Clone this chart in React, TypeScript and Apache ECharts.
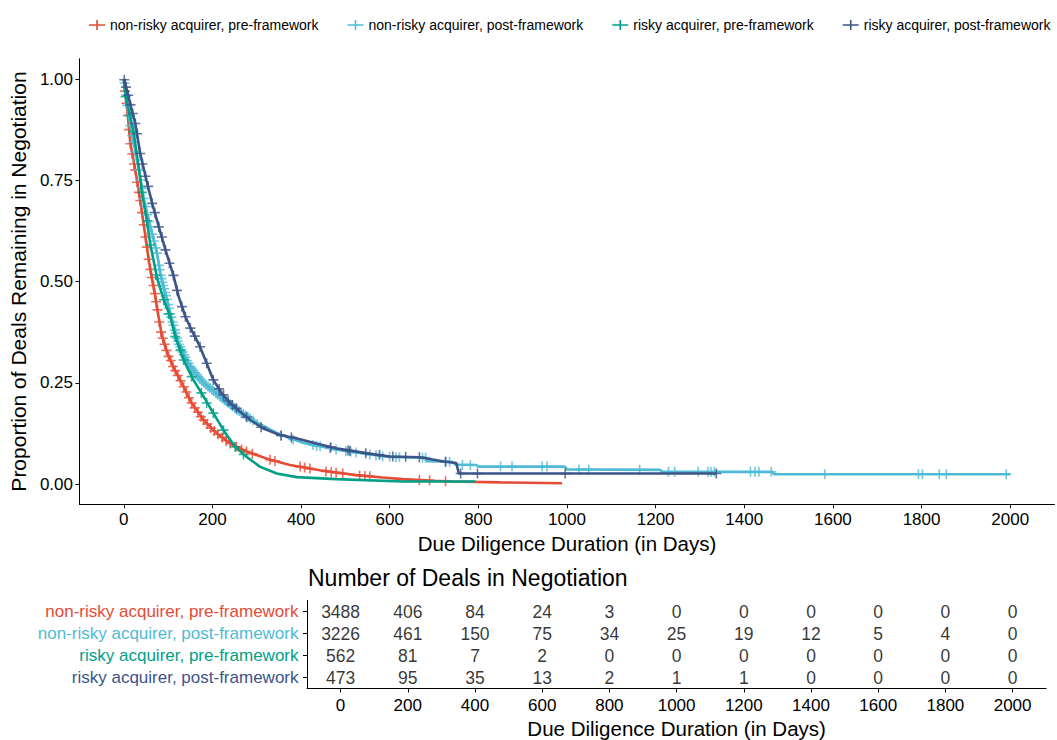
import React, { useEffect, useRef } from "react";
import * as echarts from "echarts";

const SERIES_NAMES = [
  "non-risky acquirer, pre-framework",
  "non-risky acquirer, post-framework",
  "risky acquirer, pre-framework",
  "risky acquirer, post-framework",
];
const COLORS = ["#E64B35", "#4DBBD5", "#00A087", "#3C5488"];

const DAY_TICKS = [0, 200, 400, 600, 800, 1000, 1200, 1400, 1600, 1800, 2000];
const Y_TICKS = [0, 0.25, 0.5, 0.75, 1];

// Kaplan-Meier curves: [day, proportion]
const redCurve = [
  [0, 1], [3, 0.97], [8, 0.92], [15, 0.84], [26, 0.775], [34, 0.72], [41, 0.67], [49, 0.61],
  [56, 0.555], [63, 0.51], [70, 0.47], [75, 0.435], [86, 0.365], [101, 0.315], [116, 0.28],
  [135, 0.24], [153, 0.2], [180, 0.158], [210, 0.125], [240, 0.1], [277, 0.08], [330, 0.06],
  [375, 0.047], [442, 0.034], [524, 0.022], [584, 0.016], [629, 0.012], [700, 0.008],
  [742, 0.006], [850, 0.004], [989, 0.002],
];
const cyanCurve = [
  [0, 1], [5, 0.96], [11, 0.91], [22, 0.845], [34, 0.775], [45, 0.705], [60, 0.635], [75, 0.57],
  [83, 0.515], [95, 0.465], [105, 0.42], [124, 0.345], [150, 0.29], [180, 0.25], [217, 0.216],
  [255, 0.183], [300, 0.152], [345, 0.126], [404, 0.102], [479, 0.085], [554, 0.073],
  [600, 0.067], [681, 0.065], [685, 0.056], [740, 0.055], [748, 0.048], [795, 0.047],
  [800, 0.043], [995, 0.043], [1000, 0.036], [1210, 0.035], [1215, 0.03], [1463, 0.03],
  [1467, 0.024], [2000, 0.024],
];
const greenCurve = [
  [0, 1], [4, 0.956], [14, 0.91], [22, 0.87], [34, 0.78], [41, 0.72], [52, 0.65], [60, 0.59],
  [76, 0.505], [90, 0.455], [105, 0.413], [116, 0.364], [135, 0.306], [157, 0.257], [180, 0.216],
  [202, 0.175], [225, 0.133], [251, 0.092], [277, 0.067], [307, 0.043], [345, 0.026],
  [390, 0.017], [479, 0.012], [629, 0.006], [793, 0.006],
];
const navyCurve = [
  [0, 1], [2, 0.995], [15, 0.936], [26, 0.89], [37, 0.816], [49, 0.76], [64, 0.693], [79, 0.635],
  [94, 0.578], [112, 0.515], [124, 0.462], [139, 0.413], [153, 0.38], [172, 0.339], [187, 0.298],
  [202, 0.257], [221, 0.224], [240, 0.2], [262, 0.179], [285, 0.158], [315, 0.137], [352, 0.121],
  [389, 0.113], [434, 0.1], [479, 0.088], [554, 0.075], [600, 0.068], [667, 0.066], [726, 0.055],
  [750, 0.052], [756, 0.026], [1337, 0.026],
];

// Censoring marks: [day, proportion]
const redCensor = [
  [3, 0.97], [6, 0.94], [9, 0.91], [12, 0.875], [15, 0.84], [19, 0.815], [23, 0.79], [26, 0.775],
  [30, 0.745], [34, 0.72], [37, 0.7], [41, 0.67], [45, 0.64], [49, 0.61], [52, 0.585], [56, 0.555],
  [60, 0.53], [63, 0.51], [67, 0.49], [70, 0.47], [73, 0.45], [76, 0.43], [80, 0.4], [84, 0.375],
  [88, 0.36], [92, 0.345], [96, 0.33], [101, 0.315], [106, 0.305], [111, 0.29], [116, 0.28],
  [122, 0.268], [128, 0.255], [135, 0.24], [141, 0.227], [147, 0.213], [153, 0.2], [160, 0.188],
  [167, 0.177], [174, 0.166], [180, 0.158], [188, 0.148], [196, 0.138], [204, 0.131], [212, 0.123],
  [222, 0.115], [231, 0.107], [240, 0.1], [254, 0.092], [266, 0.085], [277, 0.08], [290, 0.075],
  [330, 0.06], [341, 0.057], [398, 0.043], [408, 0.041], [420, 0.038], [456, 0.031], [468, 0.029],
  [479, 0.028], [494, 0.026], [532, 0.021], [544, 0.02], [555, 0.019], [667, 0.01], [690, 0.009],
  [726, 0.007],
];
const cyanCensor = [
  [2, 0.99], [5, 0.96], [8, 0.935], [11, 0.91], [15, 0.885], [19, 0.86], [22, 0.845], [26, 0.82],
  [30, 0.8], [34, 0.775], [38, 0.75], [41, 0.73], [45, 0.705], [49, 0.685], [53, 0.665],
  [57, 0.648], [60, 0.635], [64, 0.617], [68, 0.6], [72, 0.583], [75, 0.57], [79, 0.54],
  [81, 0.529], [83, 0.515], [85, 0.507], [87, 0.498], [89, 0.49], [91, 0.482], [93, 0.473],
  [95, 0.465], [97, 0.456], [100, 0.443], [102, 0.434], [105, 0.42], [107, 0.412], [110, 0.4],
  [112, 0.392], [115, 0.38], [117, 0.373], [120, 0.36], [122, 0.353], [124, 0.345], [127, 0.339],
  [130, 0.332], [133, 0.326], [136, 0.319], [139, 0.313], [143, 0.305], [146, 0.298], [150, 0.29],
  [153, 0.286], [157, 0.281], [161, 0.275], [165, 0.27], [168, 0.264], [172, 0.259], [176, 0.255],
  [180, 0.25], [185, 0.245], [190, 0.241], [194, 0.237], [199, 0.233], [203, 0.229], [208, 0.224],
  [212, 0.221], [217, 0.216], [222, 0.212], [227, 0.207], [231, 0.204], [236, 0.2], [240, 0.197],
  [245, 0.192], [250, 0.187], [255, 0.183], [260, 0.18], [265, 0.176], [270, 0.173], [275, 0.169],
  [280, 0.166], [285, 0.162], [292, 0.157], [355, 0.12], [382, 0.11], [427, 0.096], [435, 0.094],
  [443, 0.093], [465, 0.088], [479, 0.085], [501, 0.081], [512, 0.08], [524, 0.078], [555, 0.073],
  [569, 0.071], [584, 0.068], [600, 0.067], [614, 0.066], [622, 0.066], [674, 0.065], [681, 0.065],
  [726, 0.055], [735, 0.055], [764, 0.047], [782, 0.047], [850, 0.043], [876, 0.043], [944, 0.043],
  [955, 0.043], [1027, 0.036], [1049, 0.036], [1164, 0.035], [1229, 0.03], [1243, 0.03],
  [1296, 0.03], [1318, 0.03], [1325, 0.03], [1333, 0.03], [1414, 0.03], [1424, 0.03], [1433, 0.03],
  [1461, 0.03], [1582, 0.024], [1793, 0.024], [1802, 0.024], [1840, 0.024], [1856, 0.024],
  [1991, 0.024],
];
const greenCensor = [
  [4, 0.956], [14, 0.91], [22, 0.87], [41, 0.72], [52, 0.65], [60, 0.59], [72, 0.516], [90, 0.455],
  [101, 0.42], [116, 0.364], [128, 0.33], [135, 0.306], [153, 0.265], [175, 0.225], [187, 0.2],
  [202, 0.175], [225, 0.133], [251, 0.092], [270, 0.073],
];
const navyCensor = [
  [1, 0.998], [5, 0.98], [10, 0.96], [15, 0.936], [20, 0.915], [26, 0.89], [30, 0.865],
  [37, 0.816], [42, 0.79], [49, 0.76], [55, 0.735], [64, 0.693], [70, 0.67], [79, 0.635],
  [86, 0.61], [94, 0.578], [103, 0.545], [112, 0.515], [120, 0.478], [131, 0.438], [139, 0.413],
  [150, 0.385], [160, 0.365], [172, 0.339], [187, 0.298], [202, 0.257], [215, 0.235], [225, 0.22],
  [235, 0.205], [245, 0.195], [254, 0.187], [277, 0.165], [310, 0.14], [355, 0.12], [378, 0.115],
  [467, 0.091], [506, 0.083], [510, 0.082], [546, 0.076], [577, 0.072], [607, 0.068], [636, 0.067],
  [667, 0.066], [726, 0.055], [760, 0.026], [798, 0.026], [996, 0.026], [1337, 0.026],
];

// Risk table
const TABLE_DAYS = [0, 200, 400, 600, 800, 1000, 1200, 1400, 1600, 1800, 2000];
const riskRed = [3488, 406, 84, 24, 3, 0, 0, 0, 0, 0, 0];
const riskCyan = [3226, 461, 150, 75, 34, 25, 19, 12, 5, 4, 0];
const riskGreen = [562, 81, 7, 2, 0, 0, 0, 0, 0, 0, 0];
const riskNavy = [473, 95, 35, 13, 2, 1, 1, 0, 0, 0, 0];

const CURVES = [redCurve, cyanCurve, greenCurve, navyCurve];
const CENSORS = [redCensor, cyanCensor, greenCensor, navyCensor];
const RISKS = [riskRed, riskCyan, riskGreen, riskNavy];

const PLUS = "path://M4.2,0H5.8V4.2H10V5.8H5.8V10H4.2V5.8H0V4.2H4.2Z";
const LEGEND_ICON = "path://M0,4.2H7.2V0H8.8V4.2H16V5.8H8.8V10H7.2V5.8H0Z";
const FONT = "Liberation Sans";

export default function App() {
  const ref = useRef<HTMLDivElement>(null);
  useEffect(() => {
    document.body.style.margin = "0";
    if (!ref.current) return;
    const chart = echarts.init(ref.current, undefined, { renderer: "svg" });

    const series: any[] = [];
    SERIES_NAMES.forEach((name, i) => {
      series.push({
        type: "line",
        name,
        xAxisIndex: 0,
        yAxisIndex: 0,
        data: CURVES[i],
        showSymbol: false,
        symbol: "none",
        color: COLORS[i],
        lineStyle: { width: 2.6, color: COLORS[i] },
        z: 2 + i,
      });
      series.push({
        type: "scatter",
        name,
        xAxisIndex: 0,
        yAxisIndex: 0,
        data: CENSORS[i],
        symbol: PLUS,
        symbolSize: 10,
        color: COLORS[i],
        itemStyle: { color: COLORS[i] },
        z: 2 + i,
      });
    });

    const tableData: any[] = [];
    RISKS.forEach((row, r) => {
      row.forEach((v, k) => tableData.push([TABLE_DAYS[k], SERIES_NAMES[r], v]));
    });
    series.push({
      type: "scatter",
      name: "table",
      xAxisIndex: 1,
      yAxisIndex: 1,
      data: tableData,
      symbolSize: 1,
      itemStyle: { color: "rgba(0,0,0,0)" },
      label: {
        show: true,
        position: "inside",
        formatter: (p: any) => String(p.value[2]),
        fontSize: 17.5,
        color: "#000",
        fontFamily: FONT,
      },
    });

    const axisCommon = {
      axisLine: { show: true, onZero: false, lineStyle: { color: "#000", width: 1 } },
      axisTick: { show: true, length: 4, lineStyle: { color: "#000", width: 1 } },
      splitLine: { show: false },
    };
    const fmtInt = (v: number) => String(v);

    chart.setOption({
      animation: false,
      textStyle: { fontFamily: FONT },
      title: {
        text: "Number of Deals in Negotiation",
        left: 303,
        top: 561,
        textStyle: { fontSize: 23, fontWeight: "normal", color: "#000", fontFamily: FONT },
      },
      legend: {
        data: SERIES_NAMES.map((n, i) => ({ name: n, icon: LEGEND_ICON, itemStyle: { color: COLORS[i] } })),
        left: 84,
        top: 13,
        width: 1000,
        itemWidth: 16,
        itemHeight: 11,
        itemGap: 29,
        textStyle: { fontSize: 14, color: "#000", fontFamily: FONT },
        selectedMode: false,
      },
      grid: [
        { left: 75.5, top: 58.75, width: 979, height: 445.5 },
        { left: 307, top: 600.5, width: 739.2, height: 93.4 },
      ],
      xAxis: [
        {
          type: "value",
          gridIndex: 0,
          min: -100,
          max: 2100,
          ...axisCommon,
          axisTick: { ...axisCommon.axisTick, customValues: DAY_TICKS },
          axisLabel: { customValues: DAY_TICKS, formatter: fmtInt, fontSize: 17, color: "#000", margin: 6.5, fontFamily: FONT },
          name: "Due Diligence Duration (in Days)",
          nameLocation: "middle",
          nameGap: 26,
          nameTextStyle: { fontSize: 20.5, color: "#000", fontFamily: FONT },
        },
        {
          type: "value",
          gridIndex: 1,
          min: -100,
          max: 2100,
          ...axisCommon,
          axisTick: { ...axisCommon.axisTick, customValues: TABLE_DAYS },
          axisLabel: { customValues: TABLE_DAYS, formatter: fmtInt, fontSize: 17, color: "#000", margin: 8.5, fontFamily: FONT },
          name: "Due Diligence Duration (in Days)",
          nameLocation: "middle",
          nameGap: 29.5,
          nameTextStyle: { fontSize: 20.5, color: "#000", fontFamily: FONT },
        },
      ],
      yAxis: [
        {
          type: "value",
          gridIndex: 0,
          min: -0.05,
          max: 1.05,
          ...axisCommon,
          axisTick: { ...axisCommon.axisTick, customValues: Y_TICKS },
          axisLabel: {
            customValues: Y_TICKS,
            formatter: (v: number) => v.toFixed(2),
            fontSize: 17,
            color: "#000",
            margin: 6.5,
            fontFamily: FONT,
          },
          name: "Proportion of Deals Remaining in Negotiation",
          nameLocation: "middle",
          nameGap: 47.5,
          nameTextStyle: { fontSize: 21, color: "#000", fontFamily: FONT },
        },
        {
          type: "category",
          gridIndex: 1,
          data: SERIES_NAMES,
          inverse: true,
          ...axisCommon,
          axisTick: { ...axisCommon.axisTick, alignWithLabel: true, interval: 0 },
          axisLabel: {
            interval: 0,
            fontSize: 17,
            margin: 8.5,
            fontFamily: FONT,
            color: (v: any) => COLORS[Math.max(0, SERIES_NAMES.indexOf(v))],
          },
        },
      ],
      series,
    });
    return () => chart.dispose();
  }, []);
  return <div ref={ref} style={{ width: 1057, height: 740 }} />;
}
